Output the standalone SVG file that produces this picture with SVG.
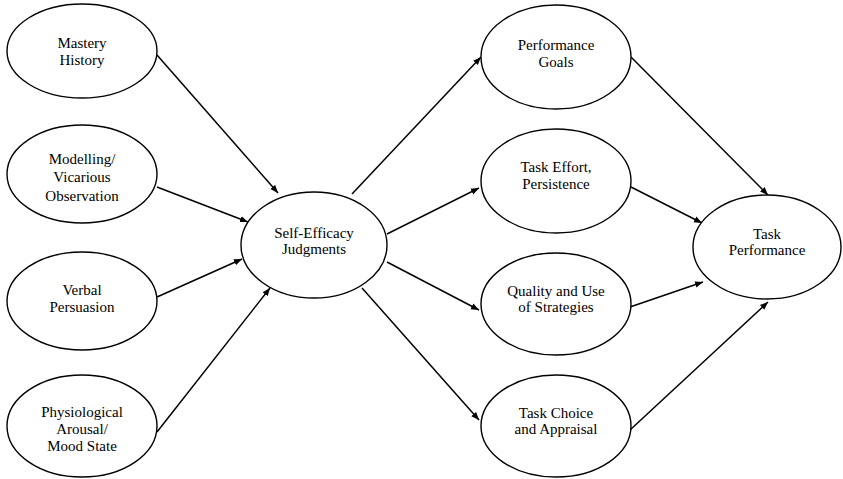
<svg xmlns="http://www.w3.org/2000/svg" width="843" height="479" viewBox="0 0 843 479">
<style>
.n ellipse{fill:#fff;stroke:#000;stroke-width:1.4}
.n text{font-family:"Liberation Serif","Times New Roman","DejaVu Serif",serif;font-size:15px;fill:#000;text-anchor:middle}
.c line{stroke:#000;stroke-width:1.5;marker-end:url(#ah)}
</style>
<defs>
<marker id="ah" viewBox="0 0 10 10" refX="10" refY="5" markerWidth="8" markerHeight="8" markerUnits="userSpaceOnUse" orient="auto">
<path d="M0,1 L10,5 L0,9 z" fill="#000"/>
</marker>
</defs>
<rect width="843" height="479" fill="#fff"/>
<g class="c" id="connectors">
<line x1="157" y1="55" x2="278" y2="193"/>
<line x1="157" y1="187" x2="248" y2="222"/>
<line x1="157" y1="297" x2="242" y2="259"/>
<line x1="157" y1="432" x2="270" y2="288"/>
<line x1="352" y1="194" x2="481" y2="57"/>
<line x1="387" y1="234" x2="479" y2="188"/>
<line x1="387" y1="262" x2="479" y2="310"/>
<line x1="362" y1="288" x2="479" y2="420"/>
<line x1="631" y1="57" x2="768" y2="195"/>
<line x1="631" y1="187" x2="702" y2="223"/>
<line x1="630" y1="307" x2="703" y2="282"/>
<line x1="630" y1="430" x2="768" y2="302"/>
</g>
<g class="n" id="mastery"><ellipse cx="82" cy="51" rx="75" ry="47"/><text x="82" y="48">Mastery</text><text x="82" y="65">History</text></g>
<g class="n" id="modelling"><ellipse cx="82" cy="174" rx="75" ry="49"/><text x="82" y="164">Modelling/</text><text x="82" y="182">Vicarious</text><text x="82" y="201">Observation</text></g>
<g class="n" id="verbal"><ellipse cx="82" cy="301" rx="75" ry="49"/><text x="82" y="295">Verbal</text><text x="82" y="312">Persuasion</text></g>
<g class="n" id="physio"><ellipse cx="82" cy="426" rx="75" ry="51"/><text x="82" y="417">Physiological</text><text x="82" y="434">Arousal/</text><text x="82" y="451">Mood State</text></g>
<g class="n" id="selfefficacy"><ellipse cx="314" cy="245" rx="73" ry="53"/><text x="314" y="238">Self-Efficacy</text><text x="314" y="254">Judgments</text></g>
<g class="n" id="goals"><ellipse cx="556" cy="57" rx="75" ry="52"/><text x="556" y="50">Performance</text><text x="556" y="67">Goals</text></g>
<g class="n" id="effort"><ellipse cx="556" cy="181" rx="75" ry="52"/><text x="556" y="172">Task Effort,</text><text x="556" y="189">Persistence</text></g>
<g class="n" id="quality"><ellipse cx="556" cy="304" rx="75" ry="51"/><text x="556" y="296">Quality and Use</text><text x="556" y="312">of Strategies</text></g>
<g class="n" id="choice"><ellipse cx="556" cy="426" rx="75" ry="51"/><text x="556" y="418">Task Choice</text><text x="556" y="434">and Appraisal</text></g>
<g class="n" id="taskperf"><ellipse cx="767" cy="247" rx="74" ry="52"/><text x="767" y="239">Task</text><text x="767" y="255">Performance</text></g>
</svg>
